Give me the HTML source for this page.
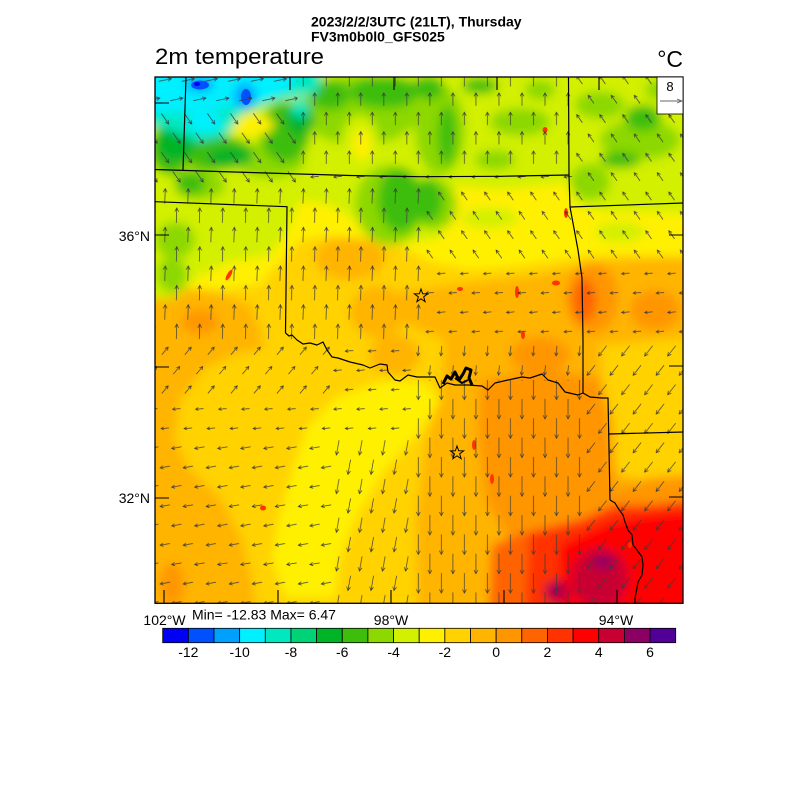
<!DOCTYPE html>
<html><head><meta charset="utf-8">
<style>
html,body{margin:0;padding:0;background:#fff;}
svg{display:block;}
text{font-family:"Liberation Sans",Arial,sans-serif;fill:#000;}
</style></head><body>
<svg width="800" height="800" viewBox="0 0 800 800" xmlns="http://www.w3.org/2000/svg" xmlns:xlink="http://www.w3.org/1999/xlink">
<defs>
<clipPath id="fr"><rect x="155" y="77" width="528" height="526.3"/></clipPath>
<filter id="bl" x="0" y="0" width="800" height="800" filterUnits="userSpaceOnUse"><feGaussianBlur stdDeviation="5"/></filter>
<path id="a8" d="M-4,0H4M1.2,-1.5L4,0L1.2,1.5"/>
<path id="a10" d="M-5,0H5M1.8,-1.7L5,0L1.8,1.7"/>
<path id="a13" d="M-6.5,0H6.5M3,-1.9L6.5,0L3,1.9"/>
<path id="a15" d="M-7.5,0H7.5M3.8,-1.9L7.5,0L3.8,1.9"/>
<path id="a20" d="M-10,0H10M6.2,-2L10,0L6.2,2"/>

<pattern id="pE" patternUnits="userSpaceOnUse" x="153.5" y="70.325" width="23.03" height="38.7"><g stroke="#3a3a3a" stroke-width="0.7" fill="none">
<use href="#a13" transform="translate(11.5,9.675) rotate(-12)"/><use href="#a13" transform="translate(11.5,48.375) rotate(-12)"/><use href="#a13" transform="translate(0,29.025) rotate(-12)"/><use href="#a13" transform="translate(23.03,29.025) rotate(-12)"/><use href="#a13" transform="translate(0,-9.675) rotate(-12)"/><use href="#a13" transform="translate(23.03,-9.675) rotate(-12)"/></g></pattern>
<pattern id="pSE" patternUnits="userSpaceOnUse" x="153.5" y="70.325" width="23.03" height="38.7"><g stroke="#3a3a3a" stroke-width="0.7" fill="none">
<use href="#a13" transform="translate(11.5,9.675) rotate(55)"/><use href="#a13" transform="translate(11.5,48.375) rotate(55)"/><use href="#a13" transform="translate(0,29.025) rotate(55)"/><use href="#a13" transform="translate(23.03,29.025) rotate(55)"/><use href="#a13" transform="translate(0,-9.675) rotate(55)"/><use href="#a13" transform="translate(23.03,-9.675) rotate(55)"/></g></pattern>
<pattern id="pN13" patternUnits="userSpaceOnUse" x="153.5" y="70.325" width="23.03" height="38.7"><g stroke="#3a3a3a" stroke-width="0.7" fill="none">
<use href="#a13" transform="translate(11.5,9.675) rotate(-90)"/><use href="#a13" transform="translate(11.5,48.375) rotate(-90)"/><use href="#a13" transform="translate(0,29.025) rotate(-90)"/><use href="#a13" transform="translate(23.03,29.025) rotate(-90)"/><use href="#a13" transform="translate(0,-9.675) rotate(-90)"/><use href="#a13" transform="translate(23.03,-9.675) rotate(-90)"/></g></pattern>
<pattern id="pNW" patternUnits="userSpaceOnUse" x="153.5" y="70.325" width="23.03" height="38.7"><g stroke="#3a3a3a" stroke-width="0.7" fill="none">
<use href="#a10" transform="translate(11.5,9.675) rotate(-125)"/><use href="#a10" transform="translate(11.5,48.375) rotate(-125)"/><use href="#a10" transform="translate(0,29.025) rotate(-125)"/><use href="#a10" transform="translate(23.03,29.025) rotate(-125)"/><use href="#a10" transform="translate(0,-9.675) rotate(-125)"/><use href="#a10" transform="translate(23.03,-9.675) rotate(-125)"/></g></pattern>
<pattern id="pW8" patternUnits="userSpaceOnUse" x="153.5" y="70.325" width="23.03" height="38.7"><g stroke="#3a3a3a" stroke-width="0.7" fill="none">
<use href="#a8" transform="translate(11.5,9.675) rotate(175)"/><use href="#a8" transform="translate(11.5,48.375) rotate(175)"/><use href="#a8" transform="translate(0,29.025) rotate(175)"/><use href="#a8" transform="translate(23.03,29.025) rotate(175)"/><use href="#a8" transform="translate(0,-9.675) rotate(175)"/><use href="#a8" transform="translate(23.03,-9.675) rotate(175)"/></g></pattern>
<pattern id="pN14" patternUnits="userSpaceOnUse" x="153.5" y="70.325" width="23.03" height="38.7"><g stroke="#3a3a3a" stroke-width="0.7" fill="none">
<use href="#a15" transform="translate(11.5,9.675) rotate(-88)"/><use href="#a15" transform="translate(11.5,48.375) rotate(-88)"/><use href="#a15" transform="translate(0,29.025) rotate(-88)"/><use href="#a15" transform="translate(23.03,29.025) rotate(-88)"/><use href="#a15" transform="translate(0,-9.675) rotate(-88)"/><use href="#a15" transform="translate(23.03,-9.675) rotate(-88)"/></g></pattern>
<pattern id="pNE" patternUnits="userSpaceOnUse" x="153.5" y="70.325" width="23.03" height="38.7"><g stroke="#3a3a3a" stroke-width="0.7" fill="none">
<use href="#a10" transform="translate(11.5,9.675) rotate(-50)"/><use href="#a10" transform="translate(11.5,48.375) rotate(-50)"/><use href="#a10" transform="translate(0,29.025) rotate(-50)"/><use href="#a10" transform="translate(23.03,29.025) rotate(-50)"/><use href="#a10" transform="translate(0,-9.675) rotate(-50)"/><use href="#a10" transform="translate(23.03,-9.675) rotate(-50)"/></g></pattern>
<pattern id="pW10" patternUnits="userSpaceOnUse" x="153.5" y="70.325" width="23.03" height="38.7"><g stroke="#3a3a3a" stroke-width="0.7" fill="none">
<use href="#a10" transform="translate(11.5,9.675) rotate(170)"/><use href="#a10" transform="translate(11.5,48.375) rotate(170)"/><use href="#a10" transform="translate(0,29.025) rotate(170)"/><use href="#a10" transform="translate(23.03,29.025) rotate(170)"/><use href="#a10" transform="translate(0,-9.675) rotate(170)"/><use href="#a10" transform="translate(23.03,-9.675) rotate(170)"/></g></pattern>
<pattern id="pSSW" patternUnits="userSpaceOnUse" x="153.5" y="70.325" width="23.03" height="38.7"><g stroke="#3a3a3a" stroke-width="0.7" fill="none">
<use href="#a15" transform="translate(11.5,9.675) rotate(100)"/><use href="#a15" transform="translate(11.5,48.375) rotate(100)"/><use href="#a15" transform="translate(0,29.025) rotate(100)"/><use href="#a15" transform="translate(23.03,29.025) rotate(100)"/><use href="#a15" transform="translate(0,-9.675) rotate(100)"/><use href="#a15" transform="translate(23.03,-9.675) rotate(100)"/></g></pattern>
<pattern id="pS20" patternUnits="userSpaceOnUse" x="153.5" y="70.325" width="23.03" height="38.7"><g stroke="#3a3a3a" stroke-width="0.7" fill="none">
<use href="#a20" transform="translate(11.5,9.675) rotate(90)"/><use href="#a20" transform="translate(11.5,48.375) rotate(90)"/><use href="#a20" transform="translate(0,29.025) rotate(90)"/><use href="#a20" transform="translate(23.03,29.025) rotate(90)"/><use href="#a20" transform="translate(0,-9.675) rotate(90)"/><use href="#a20" transform="translate(23.03,-9.675) rotate(90)"/></g></pattern>
<pattern id="pS10" patternUnits="userSpaceOnUse" x="153.5" y="70.325" width="23.03" height="38.7"><g stroke="#3a3a3a" stroke-width="0.7" fill="none">
<use href="#a10" transform="translate(11.5,9.675) rotate(95)"/><use href="#a10" transform="translate(11.5,48.375) rotate(95)"/><use href="#a10" transform="translate(0,29.025) rotate(95)"/><use href="#a10" transform="translate(23.03,29.025) rotate(95)"/><use href="#a10" transform="translate(0,-9.675) rotate(95)"/><use href="#a10" transform="translate(23.03,-9.675) rotate(95)"/></g></pattern>
<pattern id="pSW" patternUnits="userSpaceOnUse" x="153.5" y="70.325" width="23.03" height="38.7"><g stroke="#3a3a3a" stroke-width="0.7" fill="none">
<use href="#a13" transform="translate(11.5,9.675) rotate(128)"/><use href="#a13" transform="translate(11.5,48.375) rotate(128)"/><use href="#a13" transform="translate(0,29.025) rotate(128)"/><use href="#a13" transform="translate(23.03,29.025) rotate(128)"/><use href="#a13" transform="translate(0,-9.675) rotate(128)"/><use href="#a13" transform="translate(23.03,-9.675) rotate(128)"/></g></pattern>
</defs>

<rect width="800" height="800" fill="#fff"/>

<!-- Titles -->
<text x="311" y="26.7" font-size="14" font-weight="bold">2023/2/2/3UTC (21LT), Thursday</text>
<text x="311" y="41.7" font-size="14" font-weight="bold">FV3m0b0l0_GFS025</text>
<text x="155" y="64" font-size="22" textLength="169" lengthAdjust="spacingAndGlyphs">2m temperature</text>
<text x="683" y="67" font-size="23" text-anchor="end">°C</text>

<!-- Color field -->
<g clip-path="url(#fr)">
<g filter="url(#bl)">
<rect x="130" y="50" width="580" height="580" fill="#ffd200"/>
<path fill="#ffb400" d="M130,292 L175,288 L215,292 L250,305 L262,332 L245,350 L205,368 L180,400 L174,440 L190,470 L222,500 L242,540 L252,580 L258,620 L130,620Z"/>
<ellipse cx="235" cy="343" rx="30" ry="10" fill="#ffb400"/>
<ellipse cx="230" cy="262" rx="16" ry="16" fill="#ffb400"/>
<ellipse cx="350" cy="258" rx="35" ry="22" fill="#ffb400"/>
<ellipse cx="378" cy="312" rx="28" ry="26" fill="#ffb400"/>
<ellipse cx="395" cy="355" rx="25" ry="20" fill="#ffb400"/>
<ellipse cx="200" cy="322" rx="18" ry="12" fill="#ff9600"/>
<ellipse cx="172" cy="585" rx="12" ry="22" fill="#ff9600"/>
<path fill="#ffb400" d="M400,292 L470,283 L540,275 L600,262 L710,255 L710,630 L418,630 L416,520 L426,440 L440,400 L445,340 L420,330 L400,320Z"/>
<path fill="#ffd200" d="M600,345 L710,335 L710,472 L650,486 L615,470 L605,420Z"/>
<path fill="#ff9600" d="M480,382 L540,368 L600,378 L612,420 L615,480 L612,532 L560,542 L510,542 L486,500 L478,440Z"/>
<ellipse cx="540" cy="355" rx="30" ry="18" fill="#ff9600"/>
<ellipse cx="592" cy="298" rx="26" ry="36" fill="#ff9600"/>
<ellipse cx="584" cy="300" rx="12" ry="22" fill="#ff6400"/>
<ellipse cx="655" cy="310" rx="25" ry="20" fill="#ff9600"/>
<path fill="#ff9600" d="M605,492 L650,478 L710,474 L710,545 L610,545Z"/>
<path fill="#ff6400" d="M492,545 L530,530 L570,535 L565,630 L488,630Z"/>
<path fill="#ff3200" d="M530,532 L580,520 L615,505 L650,505 L710,498 L710,630 L525,630 L527,575Z"/>
<path fill="#ff0000" d="M560,545 L610,522 L650,515 L710,510 L710,630 L560,630Z"/>
<ellipse cx="600" cy="578" rx="28" ry="30" fill="#c80032"/>
<ellipse cx="558" cy="592" rx="14" ry="12" fill="#c80032"/>
<ellipse cx="603" cy="562" rx="10" ry="7" fill="#8c0064"/>
<ellipse cx="555" cy="590" rx="6" ry="6" fill="#8c0064"/>
<path fill="#fff000" d="M335,398 L385,380 L425,382 L440,400 L420,432 L385,470 L355,520 L340,560 L335,598 L285,598 L272,560 L278,520 L292,472 L305,430Z"/>
<path fill="#fff000" d="M130,150 L710,150 L710,258 L640,255 L600,255 L560,260 L520,266 L470,270 L430,262 L400,246 L370,240 L330,236 L300,240 L280,262 L260,285 L220,290 L180,288 L130,290Z"/>
<path fill="#d2f000" d="M130,50 L710,50 L710,215 L640,212 L600,212 L575,205 L568,182 L540,186 L500,190 L455,186 L440,238 L400,244 L365,225 L330,205 L300,200 L288,230 L270,255 L230,262 L200,275 L175,298 L130,300Z"/>
<ellipse cx="490" cy="218" rx="28" ry="10" fill="#d2f000"/>
<ellipse cx="620" cy="232" rx="25" ry="10" fill="#d2f000"/>
<g fill="#8cd800">
<ellipse cx="360" cy="110" rx="60" ry="35"/>
<ellipse cx="440" cy="130" rx="25" ry="45"/>
<ellipse cx="520" cy="122" rx="30" ry="14"/>
<ellipse cx="600" cy="105" rx="25" ry="14"/>
<ellipse cx="640" cy="140" rx="40" ry="20"/>
<ellipse cx="590" cy="182" rx="20" ry="18"/>
<ellipse cx="390" cy="205" rx="35" ry="40"/>
<ellipse cx="435" cy="205" rx="22" ry="25"/>
<ellipse cx="200" cy="185" rx="25" ry="15"/>
<ellipse cx="175" cy="240" rx="20" ry="18"/>
<ellipse cx="172" cy="275" rx="15" ry="18"/>
<ellipse cx="270" cy="160" rx="35" ry="18"/>
<ellipse cx="495" cy="160" rx="20" ry="10"/>
<ellipse cx="540" cy="90" rx="15" ry="10"/>
<ellipse cx="660" cy="90" rx="15" ry="10"/>
</g>
<g fill="#3cbe0a">
<ellipse cx="385" cy="92" rx="35" ry="16"/>
<ellipse cx="400" cy="200" rx="22" ry="32"/>
<ellipse cx="428" cy="200" rx="15" ry="22"/>
<ellipse cx="428" cy="88" rx="16" ry="12"/>
<ellipse cx="447" cy="135" rx="9" ry="30"/>
<ellipse cx="480" cy="86" rx="18" ry="8"/>
<ellipse cx="643" cy="118" rx="18" ry="13"/>
<ellipse cx="620" cy="160" rx="20" ry="8"/>
<ellipse cx="190" cy="183" rx="15" ry="12"/>
<ellipse cx="285" cy="132" rx="25" ry="30"/>
<ellipse cx="215" cy="153" rx="38" ry="17"/>
<ellipse cx="170" cy="150" rx="20" ry="25"/>
<ellipse cx="330" cy="95" rx="20" ry="15"/>
</g>
<g fill="#00b428">
<ellipse cx="175" cy="140" rx="20" ry="22"/>
<ellipse cx="230" cy="157" rx="22" ry="10"/>
<ellipse cx="300" cy="118" rx="14" ry="18"/>
</g>
<ellipse cx="250" cy="125" rx="24" ry="11" fill="#fff000"/>
<ellipse cx="360" cy="140" rx="18" ry="25" fill="#d2f000"/>
<ellipse cx="362" cy="145" rx="10" ry="15" fill="#fff000"/>
<path fill="#00e8c0" d="M130,50 L325,50 L318,92 L272,102 L242,114 L226,136 L196,142 L175,132 L155,126 L130,126Z"/>
<path fill="#00f0ff" d="M130,50 L305,50 L292,88 L256,104 L222,108 L186,113 L155,113 L130,113Z"/>
<ellipse cx="205" cy="122" rx="18" ry="11" fill="#00f0ff"/>
<ellipse cx="300" cy="108" rx="8" ry="10" fill="#00e8c0"/>
<ellipse cx="245" cy="96" rx="11" ry="13" fill="#00a0ff"/>
<ellipse cx="200" cy="85" rx="14" ry="7" fill="#00a0ff"/>
</g>
<ellipse cx="200" cy="85" rx="9" ry="4.5" fill="#0050ff"/>
<ellipse cx="246" cy="97" rx="5" ry="8" fill="#0050ff"/>
<ellipse cx="197" cy="84" rx="3" ry="2" fill="#0000f5"/>
<g fill="#ff3200">
<ellipse cx="229" cy="275" rx="2" ry="6" transform="rotate(30 229 275)"/>
<ellipse cx="545" cy="130" rx="2.5" ry="3"/>
<ellipse cx="566" cy="213" rx="2" ry="5"/>
<ellipse cx="517" cy="292" rx="2" ry="6"/>
<ellipse cx="460" cy="289" rx="3" ry="2"/>
<ellipse cx="556" cy="283" rx="4" ry="2.5"/>
<ellipse cx="523" cy="335" rx="2" ry="4"/>
<ellipse cx="474" cy="445" rx="2" ry="5"/>
<ellipse cx="492" cy="479" rx="2" ry="5"/>
<ellipse cx="263" cy="508" rx="3" ry="2.5"/>
<ellipse cx="630" cy="545" rx="2" ry="3"/>
</g>
</g>

<!-- Wind vectors -->
<g clip-path="url(#fr)">
<rect x="155" y="77" width="142.4" height="32" fill="url(#pE)"/>
<rect x="155" y="109" width="142.4" height="77.4" fill="url(#pSE)"/>
<rect x="297.4" y="77" width="276.4" height="90.1" fill="url(#pN13)"/>
<rect x="573.8" y="77" width="109.2" height="109.4" fill="url(#pNW)"/>
<rect x="297.4" y="167.1" width="276.4" height="19.3" fill="url(#pW8)"/>
<rect x="155" y="186.4" width="269.1" height="154.8" fill="url(#pN14)"/>
<rect x="424.1" y="186.4" width="258.9" height="77.4" fill="url(#pNW)"/>
<rect x="424.1" y="263.8" width="258.9" height="77.4" fill="url(#pW8)"/>
<rect x="155" y="341.2" width="177" height="58.1" fill="url(#pNE)"/>
<rect x="332" y="341.2" width="80.6" height="96.8" fill="url(#pW8)"/>
<rect x="155" y="399.3" width="177" height="38.7" fill="url(#pW8)"/>
<rect x="155" y="438" width="177" height="166" fill="url(#pW10)"/>
<rect x="332" y="438" width="80.6" height="166" fill="url(#pSSW)"/>
<rect x="412.6" y="341.2" width="172.7" height="38.7" fill="url(#pS10)"/>
<rect x="412.6" y="379.9" width="172.7" height="224" fill="url(#pS20)"/>
<rect x="585.3" y="341.2" width="97.7" height="262.7" fill="url(#pSW)"/>
</g>

<!-- Borders -->
<g fill="none" stroke="#000" stroke-width="1.2" stroke-linejoin="round" clip-path="url(#fr)">
<path d="M186,77 L183,170"/>
<path d="M155,169.5 L250,172.5 L350,175.5 L420,176.7 L500,176.3 L569,175"/>
<path d="M155,201.7 L287,206.7 L285.5,333"/>
<path d="M285.5,333 L289,336 L292,335 L297,340 L303,344 L310,343 L317,345 L323,342 L327,350 L332,357 L338,358 L350,362 L363,365 L370,368 L380,364 L387,365 L388,372 L395,380 L400,381 L408,375 L417,377 L435,377 L440,388 L447,383 L455,385 L468,385 L482,386 L488,390 L495,383 L508,380 L522,377 L530,378 L542,374 L548,380 L558,383 L565,392 L578,395 L583,393 L590,397 L602,398 L608,398 L610,500"/>
<path d="M568.5,77 L569,175 L570,207 L573,223 L578,250 L582,278 L583,340 L583,393"/>
<path d="M570,207 L683,203"/>
<path d="M609,434 L683,432"/>
<path d="M610,500 L615,503 L618,508 L623,515 L625,522 L628,530 L632,535 L633,545 L637,550 L642,557 L643,565 L642,575 L638,582 L637,588 L635,598 L635,604"/>
<path d="M443,384 L447,376 L451,379 L455,372 L459,380 L463,374 L466,368 L471,370 L469,378 L472,385" stroke-width="3"/>
<path d="M455,378 L462,383 L468,380" stroke-width="2"/>
</g>

<!-- Stars -->
<g fill="none" stroke="#000" stroke-width="1">
<polygon transform="translate(421,296)" points="0,-7 1.65,-2.27 6.66,-2.16 2.66,0.87 4.11,5.66 0,2.8 -4.11,5.66 -2.66,0.87 -6.66,-2.16 -1.65,-2.27"/>
<polygon transform="translate(457,453)" points="0,-7 1.65,-2.27 6.66,-2.16 2.66,0.87 4.11,5.66 0,2.8 -4.11,5.66 -2.66,0.87 -6.66,-2.16 -1.65,-2.27"/>
</g>

<!-- Frame & ticks -->
<rect x="155" y="77" width="528" height="526.3" fill="none" stroke="#000" stroke-width="1.3"/>
<g stroke="#000" stroke-width="1.1">
<path d="M155,103H169M155,235H169M155,367H169M155,498H169"/>
<path d="M683,235H669M683,366H669M683,497H669"/>
<path d="M164,603V590M278,603V590M391,603V590M504,603V590M617,603V590"/>
<path d="M290,77V90M394,77V90M497,77V90M599,77V90"/>
</g>

<!-- Reference vector box -->
<rect x="657" y="77" width="26" height="37" fill="#fff" stroke="#000" stroke-width="0.8"/>
<text x="670" y="91" font-size="13" text-anchor="middle">8</text>
<path d="M660,101H682M677,99L682,101L677,103" fill="none" stroke="#666" stroke-width="0.9"/>

<!-- Axis labels -->
<text x="164.5" y="625" font-size="14" text-anchor="middle">102°W</text>
<text x="192" y="619.5" font-size="14">Min= -12.83 Max= 6.47</text>
<text x="391" y="625" font-size="14" text-anchor="middle">98°W</text>
<text x="616" y="625" font-size="14" text-anchor="middle">94°W</text>
<text x="150" y="241" font-size="14" text-anchor="end">36°N</text>
<text x="150" y="503" font-size="14" text-anchor="end">32°N</text>

<!-- Colorbar -->
<g stroke="#000" stroke-width="0.8">
<rect x="162.7" y="628.3" width="25.65" height="14.4" fill="#0000f5"/>
<rect x="188.35" y="628.3" width="25.65" height="14.4" fill="#0050ff"/>
<rect x="214" y="628.3" width="25.65" height="14.4" fill="#00a0ff"/>
<rect x="239.65" y="628.3" width="25.65" height="14.4" fill="#00f0ff"/>
<rect x="265.3" y="628.3" width="25.65" height="14.4" fill="#00e8c0"/>
<rect x="290.95" y="628.3" width="25.65" height="14.4" fill="#00d278"/>
<rect x="316.6" y="628.3" width="25.65" height="14.4" fill="#00b428"/>
<rect x="342.25" y="628.3" width="25.65" height="14.4" fill="#3cbe0a"/>
<rect x="367.9" y="628.3" width="25.65" height="14.4" fill="#8cd800"/>
<rect x="393.55" y="628.3" width="25.65" height="14.4" fill="#d2f000"/>
<rect x="419.2" y="628.3" width="25.65" height="14.4" fill="#fff000"/>
<rect x="444.85" y="628.3" width="25.65" height="14.4" fill="#ffd200"/>
<rect x="470.5" y="628.3" width="25.65" height="14.4" fill="#ffb400"/>
<rect x="496.15" y="628.3" width="25.65" height="14.4" fill="#ff9600"/>
<rect x="521.8" y="628.3" width="25.65" height="14.4" fill="#ff6400"/>
<rect x="547.45" y="628.3" width="25.65" height="14.4" fill="#ff3200"/>
<rect x="573.1" y="628.3" width="25.65" height="14.4" fill="#ff0000"/>
<rect x="598.75" y="628.3" width="25.65" height="14.4" fill="#c80032"/>
<rect x="624.4" y="628.3" width="25.65" height="14.4" fill="#8c0064"/>
<rect x="650.05" y="628.3" width="25.65" height="14.4" fill="#500096"/>
</g>
<g font-size="14" text-anchor="middle">
<text x="188.35" y="657">-12</text>
<text x="239.65" y="657">-10</text>
<text x="290.95" y="657">-8</text>
<text x="342.25" y="657">-6</text>
<text x="393.55" y="657">-4</text>
<text x="444.85" y="657">-2</text>
<text x="496.15" y="657">0</text>
<text x="547.45" y="657">2</text>
<text x="598.75" y="657">4</text>
<text x="650.05" y="657">6</text>
</g>
</svg>
</body></html>
